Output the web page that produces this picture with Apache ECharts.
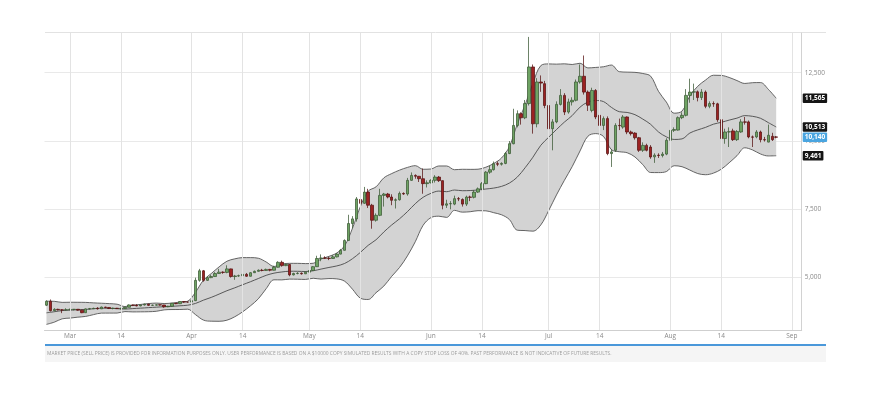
<!DOCTYPE html>
<html><head><meta charset="utf-8">
<script src="https://cdn.jsdelivr.net/npm/echarts@6/dist/echarts.min.js"></script>
<style>html,body{margin:0;padding:0;background:#fff}#c{width:879px;height:393px}</style>
</head><body><div id="c"></div>
<script>
// ---- data ----
const startDate = '2019-02-23';
const dayCount = 193;               // Feb 23 .. Sep 3 (axis range)
const monthNames = ['Jan','Feb','Mar','Apr','May','Jun','Jul','Aug','Sep','Oct','Nov','Dec'];
const gridDates = ['2019-03-01','2019-03-14','2019-04-01','2019-04-14','2019-05-01','2019-05-14','2019-06-01','2019-06-14','2019-07-01','2019-07-14','2019-08-01','2019-08-14','2019-09-01'];
const yTicks = [5000, 7500, 10000, 12500];

const opens = [3990,4135,3790,3840,3820,3815,3825,3835,3842,3810,3715,3855,3862,3875,3858,3922,3908,3872,3880,3866,
3872,3915,4000,3985,3965,4000,4028,3985,3993,4005,3998,3932,3952,4062,4045,4122,4106,4105,4158,4900,
5250,4900,5000,5040,5150,5200,5190,5320,5040,5060,5070,5120,5050,5180,5230,5270,5260,5300,5270,5380,
5560,5440,5480,5100,5150,5160,5140,5200,5260,5400,5700,5720,5710,5700,5760,5860,6000,6360,6980,7150,
7860,7720,8130,7650,7100,7280,8010,8060,7950,7830,7850,8080,8060,8560,8740,8710,8620,8440,8470,8560,
8680,8550,7650,7700,7690,7890,7860,7690,7950,7940,8130,8250,8440,8860,8950,9170,9150,9180,9540,9900,
10570,11000,10850,11370,12710,10630,12160,12100,11300,10450,10700,11340,11670,11060,11430,11490,12160,12370,11790,11120,
11850,10940,10570,10820,9540,9660,10570,10510,10880,10330,10290,10120,9660,9840,9780,9420,9480,9470,9520,10025,
10390,10400,10855,10940,11670,11790,11800,11590,11790,11270,11370,11360,10780,10090,10330,10370,10050,10330,10700,10700,
10150,10150,10330,10050,9960,10170,10150];
const highs = [4170,4200,3880,3860,3840,3880,3870,3850,3850,3830,3870,3890,3900,3920,3940,3930,3920,3900,3890,3900,
3930,4020,4010,4030,4010,4050,4050,4010,4020,4010,4000,3970,4070,4070,4130,4140,4120,4170,5000,5320,
5280,5050,5100,5200,5320,5230,5450,5330,5100,5110,5150,5170,5200,5260,5300,5320,5330,5320,5430,5600,
5620,5520,5490,5180,5200,5190,5230,5300,5420,5800,5850,5780,5760,5820,5900,6050,6400,7300,7250,7950,
8050,8320,8250,7700,7350,8250,8100,8100,8050,7900,8150,8120,8650,8850,8780,8720,8990,8560,8600,8750,
8720,8560,7850,7800,8000,7950,7900,8000,8000,8200,8300,8500,8900,9100,9250,9250,9220,9600,10000,11180,
11120,11050,11500,13810,12800,12300,12400,12200,11400,10800,11450,11900,11750,11550,11600,12250,12800,13130,11850,11950,
11900,11100,10900,10900,9700,10650,10820,10950,10900,10380,10320,10150,9950,9900,9850,9550,9550,9600,10100,10450,
10500,10900,11050,11900,12280,12100,11850,11900,11850,11450,11450,11400,10800,10450,10500,10450,10400,10800,10880,10750,
10200,10400,10380,10150,10600,10300,10180];
const lows = [3960,3760,3770,3800,3700,3800,3810,3800,3790,3700,3710,3830,3850,3830,3850,3880,3850,3840,3850,3830,
3860,3910,3960,3950,3950,3980,3960,3970,3980,3980,3900,3920,3940,4030,4040,4080,4090,4095,4140,4850,
4850,4880,4980,5030,5140,5140,5160,5000,4920,5030,5040,5030,5040,5170,5220,5230,5250,5230,5260,5370,
5400,5420,5050,5080,5120,5110,5130,5190,5250,5390,5600,5680,5640,5690,5740,5850,5990,6350,6800,7050,
7650,7700,7550,6790,7050,7250,7600,7900,7650,7530,7820,8030,8000,8540,8620,8500,8070,8300,8450,8480,
8500,7500,7550,7500,7650,7800,7600,7620,7800,7900,8100,8200,8420,8800,8920,9080,9100,9150,9520,9880,
10500,10600,10800,11300,10270,10500,11800,11200,9960,9660,10650,11300,10950,11000,11300,11450,12100,11700,11100,11050,
10800,10400,10400,9480,9050,9600,10400,10450,10250,10200,10050,9600,9600,9620,9350,9200,9380,9400,9480,9950,
10330,10380,10800,10900,11400,11500,11450,11500,11200,11200,11250,10700,9480,9900,9780,10000,10000,10300,10600,10100,
9780,10100,9950,9980,9950,10000,10100];
const closes = [4135,3790,3840,3820,3815,3825,3835,3842,3810,3715,3855,3862,3875,3858,3922,3908,3872,3880,3866,3872,
3915,4000,3985,3965,4000,4028,3985,3993,4005,3998,3932,3952,4062,4045,4122,4106,4105,4158,4900,5250,
4900,5000,5040,5150,5200,5190,5320,5040,5060,5070,5120,5050,5180,5230,5270,5260,5300,5270,5380,5560,
5440,5480,5100,5150,5160,5140,5200,5260,5400,5700,5720,5710,5700,5760,5860,6000,6360,6980,7150,7880,
7720,8130,7650,7100,7280,8010,8060,7950,7830,7850,8080,8060,8560,8740,8710,8620,8440,8470,8560,8680,
8550,7650,7700,7710,7890,7880,7690,7950,7940,8130,8250,8440,8860,8950,9170,9150,9180,9540,9900,10570,
11000,10850,11370,12710,10630,12160,12120,11300,10450,10700,11340,11670,11060,11430,11490,12160,12370,11790,11310,11850,
10880,10570,10820,9540,9600,10570,10560,10880,10330,10270,10120,9660,9840,9660,9415,9480,9470,9520,10025,10390,
10420,10855,10940,11670,11790,11800,11590,11790,11270,11370,11360,10780,10090,10330,10340,10050,10350,10700,10690,10150,
10140,10330,10050,10040,10210,10050,10140];

// Bollinger band values read every 2nd day (day 0, 2, 4 ... 186)
const bandStep = 2;
const bandUpper = [4136,4132,4094,4099,4097,4093,4076,4063,4048,4027,
3941,3989,4018,4050,4068,4052,4068,4105,4137,4468,
4903,5149,5393,5600,5687,5732,5732,5710,5573,5408,
5496,5523,5523,5513,5526,5680,5778,5902,6168,6808,
7595,8164,8322,8652,8808,8934,9033,9098,8966,8975,
9086,9086,8950,8965,8962,8968,9041,9178,9380,9797,
10619,11320,12115,12759,12822,12813,12825,12800,12846,12675,
12693,12718,12780,12538,12521,12512,12471,12373,11818,11425,
11019,11095,11650,12003,12232,12407,12401,12326,12212,12106,
12135,12139,11891,11565];
const bandMiddle = [3712,3751,3793,3809,3825,3837,3861,3882,3875,3865,
3849,3867,3883,3901,3918,3936,3950,3969,3991,4056,
4175,4277,4397,4521,4627,4740,4850,4967,5084,5164,
5207,5234,5232,5223,5251,5313,5372,5428,5518,5692,
5922,6182,6385,6672,6928,7153,7414,7705,7940,8085,
8167,8145,8206,8181,8187,8209,8243,8277,8340,8461,
8678,9021,9408,9844,10137,10420,10691,10931,11241,11424,
11482,11441,11231,11073,11046,10964,10802,10610,10331,10153,
10057,10077,10293,10406,10499,10616,10684,10764,10837,10929,
10903,10832,10672,10513];
const bandLower = [3288,3370,3492,3519,3553,3581,3646,3701,3702,3703,
3757,3745,3748,3752,3768,3820,3832,3833,3845,3644,
3447,3405,3401,3442,3567,3748,3968,4224,4595,4920,
4918,4945,4941,4933,4976,4946,4966,4954,4868,4576,
4249,4200,4448,4692,5048,5372,5795,6312,6914,7195,
7248,7204,7462,7397,7412,7450,7445,7376,7300,7125,
6737,6722,6701,6929,7452,8027,8557,9062,9636,10173,
10271,10164,9682,9608,9571,9416,9133,8847,8844,8881,
9095,9059,8936,8809,8766,8825,8967,9202,9462,9752,
9671,9525,9453,9461];

const disclaimer = 'MARKET PRICE (SELL PRICE) IS PROVIDED FOR INFORMATION PURPOSES ONLY. USER PERFORMANCE IS BASED ON A $10000 COPY SIMULATED RESULTS WITH A COPY STOP LOSS OF 40%. PAST PERFORMANCE IS NOT INDICATIVE OF FUTURE RESULTS.';

// ---- build what the library needs ----
const categories = [];
{
  const p = startDate.split('-').map(Number);
  for (let i = 0; i < dayCount; i++) {
    const d = new Date(Date.UTC(p[0], p[1] - 1, p[2] + i));
    categories.push(d.toISOString().slice(0, 10));
  }
}
const candles = closes.map((c, i) => [opens[i], c, lows[i], highs[i]]);
const bandPts = (arr) => arr.map((v, k) => [categories[k * bandStep], v]);
const bandWidthPts = bandUpper.map((u, k) => [categories[k * bandStep], u - bandLower[k]]);
const fmt = (v) => String(v).replace(/\B(?=(\d{3})+(?!\d))/g, ',');
const lastUpper = bandUpper[bandUpper.length - 1];
const lastMiddle = bandMiddle[bandMiddle.length - 1];
const lastLower = bandLower[bandLower.length - 1];
const lastClose = closes[closes.length - 1];

const FONT = '"Open Sans", "Noto Sans", sans-serif';
const tag = (v, bg) => ({
  yAxis: v,
  label: { show: true, position: 'end', distance: 1, formatter: fmt(v), color: '#fff', backgroundColor: bg,
           fontSize: 6.5, fontFamily: FONT, fontWeight: 'bold', padding: [1.5, 2, 1, 2], borderRadius: 1 }
});

const chart = echarts.init(document.getElementById('c'), null, { renderer: 'canvas' });
chart.setOption({
  animation: false,
  backgroundColor: '#fff',
  grid: { left: 44.5, right: 77.3, top: 33, bottom: 63, containLabel: false },
  xAxis: {
    type: 'category', data: categories, boundaryGap: true,
    axisLine: { show: true, lineStyle: { color: '#cfcfcf', width: 1 } },
    axisTick: { show: false },
    splitLine: { show: false },
    axisLabel: {
      interval: (i, v) => { const d = +v.slice(8); return d === 1 || d === 14; },
      formatter: (v) => { const d = +v.slice(8); return d === 1 ? monthNames[+v.slice(5, 7) - 1] : String(d); },
      color: '#8a8a8a', fontSize: 6.5, fontFamily: FONT, margin: 3
    }
  },
  yAxis: {
    type: 'value', position: 'right', min: 3083, max: 13953, scale: true,
    axisLine: { show: true, lineStyle: { color: '#d2d2d2' } },
    axisTick: { show: false, customValues: yTicks },
    axisLabel: { customValues: yTicks, formatter: (v) => fmt(v), color: '#8a8a8a', fontSize: 6.5, fontFamily: FONT, margin: 3 },
    splitLine: { show: true, lineStyle: { color: '#e9e9e9', width: 1 } }
  },
  series: [
    { // vertical date grid lines
      type: 'line', data: [], z: 0, silent: true,
      markLine: { silent: true, symbol: ['none', 'none'], label: { show: false },
        lineStyle: { color: '#e3e3e3', width: 1, type: 'solid' },
        data: gridDates.map((d) => ({ xAxis: d })) }
    },
    { name: 'lower', type: 'line', stack: 'bb', data: bandPts(bandLower), smooth: 0.35, symbol: 'none', z: 2,
      lineStyle: { color: '#555', width: 0.9 } },
    { name: 'band', type: 'line', stack: 'bb', data: bandWidthPts, smooth: 0.35, symbol: 'none', z: 2,
      lineStyle: { width: 0, opacity: 0 }, areaStyle: { color: '#d3d3d3', opacity: 1 } },
    { name: 'upper', type: 'line', data: bandPts(bandUpper), smooth: 0.35, symbol: 'none', z: 3,
      lineStyle: { color: '#555', width: 0.9 } },
    { name: 'middle', type: 'line', data: bandPts(bandMiddle), smooth: 0.35, symbol: 'none', z: 3,
      lineStyle: { color: '#4a4a4a', width: 0.9 } },
    { name: 'price', type: 'candlestick', data: candles, barWidth: 3, z: 4,
      itemStyle: { color: '#6ea363', color0: '#9c2222', borderColor: '#3c5a36', borderColor0: '#581313', borderWidth: 0.75 } },
    { // right-hand value tags
      type: 'line', data: [], z: 6, silent: true,
      markLine: { silent: true, symbol: ['none', 'none'], lineStyle: { color: 'rgba(0,0,0,0)', width: 1 },
        data: [tag(lastUpper, '#151515'), tag(lastMiddle, '#151515'), tag(lastClose, '#4aa5e0'), tag(lastLower, '#151515')] }
    }
  ],
  graphic: [
    { type: 'line', shape: { x1: 45, y1: 32.5, x2: 826, y2: 32.5 }, style: { stroke: '#e2e2e2', lineWidth: 1 }, silent: true },
    { type: 'rect', shape: { x: 45, y: 346, width: 781, height: 16 }, style: { fill: '#f5f5f5' }, silent: true },
    { type: 'rect', shape: { x: 45, y: 344, width: 781, height: 2 }, style: { fill: '#4a98da' }, silent: true },
    { type: 'text', x: 47, y: 353.5, style: { text: disclaimer, fill: '#9c9c9c', fontSize: 4.9, fontFamily: FONT, verticalAlign: 'middle' }, silent: true }
  ]
});
</script></body></html>
